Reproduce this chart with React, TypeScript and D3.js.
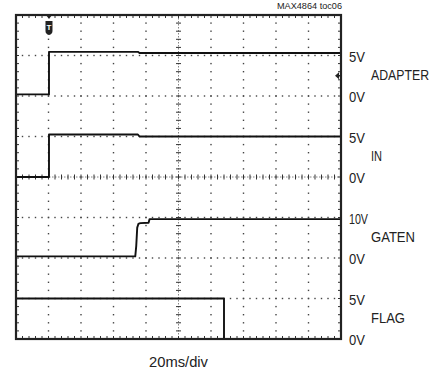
import React from "react";
import * as d3 from "d3";

const W = 447;
const H = 374;

// channel definitions
const channelNames = ["ADAPTER", "IN", "GATEN", "FLAG"];
const channelZeroDiv = [2, 4, 6, 8]; // division from top where 0V sits
const channelVoltsPerDiv = [5, 5, 10, 5];
const channelTopLabel = ["5V", "5V", "10V", "5V"];

// traces: time (ms), volts
const adapterT = [0, 20.3, 20.3, 75, 76, 200];
const adapterV = [0.2, 0.2, 5.45, 5.45, 5.3, 5.3];
const inT = [0, 20.3, 20.3, 75, 76, 200];
const inV = [0, 0, 5.25, 5.25, 5.0, 5.0];
const gatenT = [0, 73.4, 74.0, 74.6, 75.3, 76.5, 81.6, 82.2, 200];
const gatenV = [0.4, 0.4, 3.0, 7.5, 8.4, 8.6, 8.7, 9.6, 9.6];
const flagT = [0, 128, 128, 200];
const flagV = [5, 5, 0, 0];

const traceT = [adapterT, inT, gatenT, flagT];
const traceV = [adapterV, inV, gatenV, flagV];

const L = 16, R = 341, T = 15, B = 339;
const xDiv = d3.scaleLinear().domain([0, 10]).range([L, R]);
const yDiv = d3.scaleLinear().domain([0, 8]).range([T, B]);
const xTime = d3.scaleLinear().domain([0, 200]).range([L, R]);

const triggerTime = 20.3;

// approximate rendered widths of the condensed lettering
const nameWidths = [58, 11, 44, 34];
const topLabelWidths = [16, 16, 19, 16];

export default function App() {
  const font = "'Liberation Sans Narrow', 'Arial Narrow', 'Liberation Sans', sans-serif";
  const dots: React.ReactNode[] = [];
  for (let k = 1; k < 8; k++) {
    if (k === 4) continue;
    for (let j = 1; j < 50; j++) {
      dots.push(<rect key={`h${k}-${j}`} x={xDiv(j / 5) - 0.7} y={yDiv(k) - 0.7} width={1.4} height={1.4} fill="#444" />);
    }
  }
  for (let k = 1; k < 10; k++) {
    if (k === 5) continue;
    for (let j = 1; j < 40; j++) {
      dots.push(<rect key={`v${k}-${j}`} x={xDiv(k) - 0.7} y={yDiv(j / 5) - 0.7} width={1.4} height={1.4} fill="#444" />);
    }
  }
  const ticks: React.ReactNode[] = [];
  const cx = xDiv(5), cy = yDiv(4);
  for (let j = 1; j < 50; j++) {
    const x = xDiv(j / 5);
    ticks.push(<line key={`ct${j}`} x1={x} x2={x} y1={cy - 2.5} y2={cy + 2.5} stroke="#333" strokeWidth={1} />);
    ticks.push(<line key={`tt${j}`} x1={x} x2={x} y1={T} y2={T + 3} stroke="#333" strokeWidth={1} />);
    ticks.push(<line key={`bt${j}`} x1={x} x2={x} y1={B} y2={B - 3} stroke="#333" strokeWidth={1} />);
  }
  for (let j = 1; j < 40; j++) {
    const y = yDiv(j / 5);
    ticks.push(<line key={`cv${j}`} x1={cx - 2.5} x2={cx + 2.5} y1={y} y2={y} stroke="#333" strokeWidth={1} />);
    ticks.push(<line key={`lt${j}`} x1={L} x2={L + 3} y1={y} y2={y} stroke="#333" strokeWidth={1} />);
    ticks.push(<line key={`rt${j}`} x1={R} x2={R - 3} y1={y} y2={y} stroke="#333" strokeWidth={1} />);
  }

  const traces = traceT.map((ts, i) => {
    const vpd = channelVoltsPerDiv[i];
    const z = channelZeroDiv[i];
    const line = d3
      .line<number>()
      .x((_, k) => xTime(ts[k]))
      .y((_, k) => yDiv(z - traceV[i][k] / vpd))
      .curve(d3.curveLinear);
    return <path key={channelNames[i]} d={line(ts) || ""} fill="none" stroke="#111" strokeWidth={1.9} strokeLinejoin="round" />;
  });

  const labels = channelNames.map((name, i) => {
    const z = channelZeroDiv[i];
    const yTop = yDiv(z - 1);
    const yZero = yDiv(z);
    return (
      <g key={name} fontFamily={font} fill="#222">
        <text x={349} y={yTop + 6} fontSize={15} textLength={topLabelWidths[i]} lengthAdjust="spacingAndGlyphs">{channelTopLabel[i]}</text>
        <text x={371} y={(yTop + yZero) / 2 + 4} fontSize={14} textLength={nameWidths[i]} lengthAdjust="spacingAndGlyphs">{name}</text>
        <text x={349} y={yZero + 6} fontSize={15} textLength={16} lengthAdjust="spacingAndGlyphs">0V</text>
      </g>
    );
  });

  const tx = xTime(triggerTime);
  return (
    <svg width={W} height={H} style={{ position: "absolute", left: 0, top: 0, background: "#fff" }}>
      <rect x={0} y={0} width={W} height={H} fill="#fff" />
      {dots}
      <line x1={cx} x2={cx} y1={T} y2={B} stroke="#666" strokeWidth={0.8} strokeDasharray="1.5,1.5" />
      <line x1={L} x2={R} y1={cy} y2={cy} stroke="#666" strokeWidth={0.8} strokeDasharray="1.5,1.5" />
      {ticks}
      {traces}
      <rect x={L} y={T} width={R - L} height={B - T} fill="none" stroke="#222" strokeWidth={2.2} />
      {/* trigger marker */}
      <path d={`M${tx - 3},${T} L${tx + 3},${T} L${tx},${T + 4} Z`} fill="#222" />
      <path d={`M${tx - 3.5},${T + 6} h7 v10 q0,3 -3.5,4 q-3.5,-1 -3.5,-4 Z`} fill="#222" />
      <text x={tx} y={T + 15} fontSize={8} fontFamily={font} fill="#fff" textAnchor="middle" fontWeight="bold">T</text>
      {/* trigger level marker */}
      <path d={`M${R - 6},${yDiv(1.5)} L${R - 2},${yDiv(1.5) - 3.5} L${R - 2},${yDiv(1.5) + 3.5} Z`} fill="#222" />
      <line x1={R - 2} x2={R} y1={yDiv(1.5)} y2={yDiv(1.5)} stroke="#222" strokeWidth={1.5} />
      {labels}
      <text x={342} y={9} fontSize={9} fontFamily={font} fill="#222" textAnchor="end" textLength={65} lengthAdjust="spacingAndGlyphs">MAX4864 toc06</text>
      <text x={cx} y={367} fontSize={15} fontFamily={font} fill="#222" textAnchor="middle" textLength={59} lengthAdjust="spacingAndGlyphs">20ms/div</text>
    </svg>
  );
}
